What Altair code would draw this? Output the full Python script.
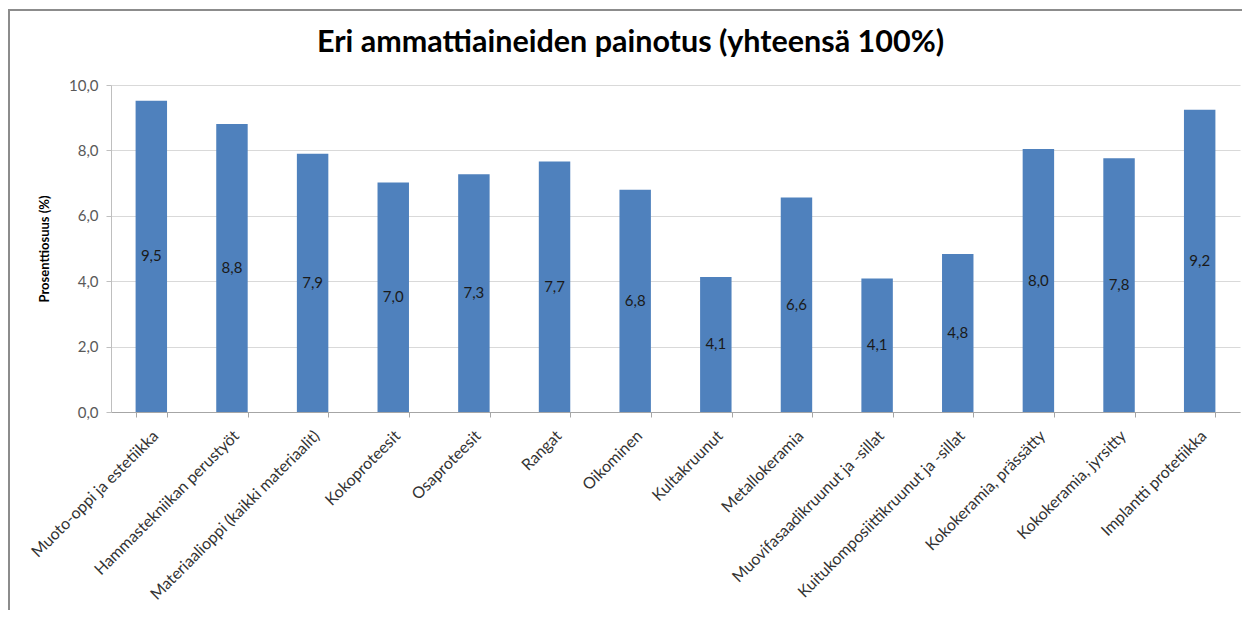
import altair as alt
import pandas as pd

categories = [
    "Muoto-oppi ja estetiikka",
    "Hammastekniikan perustyöt",
    "Materiaalioppi (kaikki materiaalit)",
    "Kokoproteesit",
    "Osaproteesit",
    "Rangat",
    "Oikominen",
    "Kultakruunut",
    "Metallokeramia",
    "Muovifasaadikruunut ja -sillat",
    "Kuitukomposiittikruunut ja -sillat",
    "Kokokeramia, prässätty",
    "Kokokeramia, jyrsitty",
    "Implantti protetiikka",
]
values = [9.52, 8.81, 7.90, 7.02, 7.27, 7.66, 6.80, 4.13, 6.56, 4.08, 4.83, 8.04, 7.76, 9.24]

y_ticks = [0, 2, 4, 6, 8, 10]

FONT = "Lato"

df = pd.DataFrame({"cat": categories, "val": values})

x_enc = alt.X(
    "cat:N",
    sort=None,
    title=None,
    scale=alt.Scale(paddingInner=0.61, paddingOuter=0.305),
    axis=alt.Axis(
        labelAngle=-45,
        labelAlign="right",
        labelBaseline="middle",
        labelPadding=16,
        labelOffset=4,
        labelFont=FONT,
        labelFontSize=16,
        labelColor="#333333",
        labelLimit=400,
        tickBand="extent",
        tickSize=5,
        tickColor="#a6a6a6",
        domainColor="#a6a6a6",
        grid=False,
    ),
)

bars = alt.Chart(df).mark_bar(color="#4F81BD").encode(
    x=x_enc,
    y=alt.Y(
        "val:Q",
        title="Prosenttiosuus (%)",
        scale=alt.Scale(domain=[0, 10], nice=False),
        axis=alt.Axis(
            values=y_ticks,
            labelExpr="replace(format(datum.value, '.1f'), '.', ',')",
            labelFont=FONT,
            labelFontSize=15,
            labelColor="#595959",
            labelPadding=8,
            tickSize=5,
            tickColor="#bfbfbf",
            domainColor="#bfbfbf",
            gridColor="#d9d9d9",
            titleFont=FONT,
            titleFontSize=13,
            titleFontWeight="bold",
            titleColor="#000000",
            titlePadding=17,
        ),
    ),
)

labels = alt.Chart(df).transform_calculate(
    mid="datum.val / 2",
    lab="replace(format(datum.val, '.1f'), '.', ',')",
).mark_text(font=FONT, fontSize=15, color="#1a1a1a", baseline="middle", align="center").encode(
    x=alt.X("cat:N", sort=None),
    y=alt.Y("mid:Q"),
    text="lab:N",
)

border = alt.Chart(pd.DataFrame({"k": [0]})).mark_rect(
    fill=None, stroke="#8c8c8c", strokeWidth=2
).encode(
    x=alt.value(-102), x2=alt.value(1300), y=alt.value(-75), y2=alt.value(700)
)

chart = alt.layer(border, bars, labels).properties(
    width=1129,
    height=327,
    padding={"left": 103, "top": 77, "right": 2, "bottom": 198},
    autosize=alt.AutoSizeParams(type="none"),
    title=alt.TitleParams(
        "Eri ammattiaineiden painotus (yhteensä 100%)",
        font=FONT,
        fontSize=30.5,
        fontWeight="bold",
        color="#000000",
        anchor="middle",
        frame="group",
        baseline="middle",
        offset=-64,
        dx=-45,
    ),
).configure_view(stroke=None)

chart.save("out.html", embed_options={"renderer": "svg", "actions": False})
